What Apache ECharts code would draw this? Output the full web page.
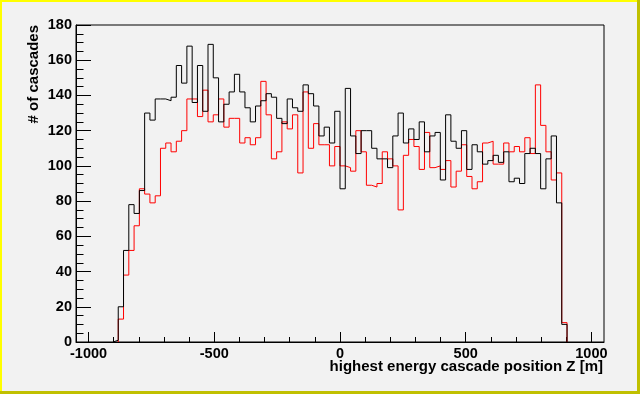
<!DOCTYPE html>
<html>
<head>
<meta charset="utf-8">
<script src="https://cdn.jsdelivr.net/npm/echarts@6/dist/echarts.min.js"></script>
<style>
  html, body { margin: 0; padding: 0; background: #f2f2f2; }
  #chart { width: 640px; height: 394px; }
</style>
</head>
<body>
<div id="chart"></div>
<script>
// Histogram definition: 100 bins from -1050 to 1050 (bin width 21)
const HIST_MIN = -1050;
const HIST_MAX = 1050;
const NBINS = 100;

// Bin contents (black histogram), bins 0..99
const blackCounts = [
  0,0,0,0,0,0,0,
  1,20,52,78,73,86,130,126,138,138,
  137,139,157,147,168,136,157,131,169,150,
  125,135,142,152,142,133,125,134,137,141,
  139,127,124,138,133,131,146,141,134,117,
  122,113,131,87,144,117,107,120,120,110,
  104,104,99,117,130,113,121,115,125,108,
  117,119,92,129,114,110,120,98,112,108,
  101,103,106,102,108,91,93,90,107,110,
  107,87,104,117,79,10,
  0,0,0,0,0,0,0
];

// Bin contents (red histogram), bins 0..99
const redCounts = [
  0,0,0,0,0,0,0,
  0,13,38,52,66,87,84,79,83,110,
  113,108,114,120,138,138,128,143,125,129,
  138,122,127,127,113,116,112,116,148,129,
  104,108,125,121,129,96,142,110,124,112,
  112,100,111,100,99,97,120,108,89,88,
  90,108,104,100,75,106,115,111,98,119,
  99,100,98,103,88,97,112,94,87,91,
  113,114,101,101,113,108,111,108,116,107,
  146,123,108,92,96,11,
  0,0,0,0,0,0,0
];

const xMajorTicks = [-1000, -500, 0, 500, 1000];
const xMinorTicks = [-1000,-900,-800,-700,-600,-500,-400,-300,-200,-100,0,100,200,300,400,500,600,700,800,900,1000];
const yTicks = [0, 20, 40, 60, 80, 100, 120, 140, 160, 180];

const xTitle = 'highest energy cascade position Z [m]';
const yTitle = '# of cascades';

// Build step outline points from bin contents (lower bin edges)
function histPoints(counts) {
  const w = (HIST_MAX - HIST_MIN) / NBINS;
  const first = counts.findIndex(v => v > 0);
  let last = counts.length - 1;
  while (last >= 0 && counts[last] <= 0) last--;
  const pts = [];
  pts.push([HIST_MIN + first * w, 0]);
  for (let i = first; i <= last; i++) pts.push([HIST_MIN + i * w, counts[i]]);
  pts.push([HIST_MIN + (last + 1) * w, 0]);
  return pts;
}

const FONT = '"Liberation Sans", Arial, Helvetica, sans-serif';
const plain = v => String(v);
const chart = echarts.init(document.getElementById('chart'), null, { renderer: 'canvas' });

const option = {
  animation: false,
  backgroundColor: '#f2f2f2',
  grid: {
    left: 76, right: 36, top: 25, bottom: 52,
    show: true, borderColor: '#000', borderWidth: 1, backgroundColor: 'transparent'
  },
  xAxis: [
    {
      type: 'value', min: HIST_MIN, max: HIST_MAX, position: 'bottom',
      axisLine: { show: true, onZero: false, lineStyle: { color: '#000', width: 1 } },
      axisTick: { show: true, inside: true, length: 10, customValues: xMajorTicks, lineStyle: { color: '#000', width: 1 } },
      axisLabel: { show: true, customValues: xMajorTicks, formatter: plain, margin: 4, color: '#000', fontFamily: FONT, fontWeight: 'bold', fontSize: 14.5 },
      splitLine: { show: false }
    },
    {
      type: 'value', min: HIST_MIN, max: HIST_MAX, position: 'bottom',
      axisLine: { show: false, onZero: false },
      axisTick: { show: true, inside: true, length: 5, customValues: xMinorTicks, lineStyle: { color: '#000', width: 1 } },
      axisLabel: { show: false },
      splitLine: { show: false }
    }
  ],
  yAxis: {
    type: 'value', min: yTicks[0], max: yTicks[yTicks.length - 1], interval: yTicks[1] - yTicks[0],
    axisLine: { show: true, onZero: false, lineStyle: { color: '#000', width: 1 } },
    axisTick: { show: true, inside: true, length: 15, lineStyle: { color: '#000', width: 1 } },
    minorTick: { show: true, splitNumber: 4, length: 7.5, lineStyle: { color: '#000', width: 1 } },
    axisLabel: { margin: 4, formatter: plain, color: '#000', fontFamily: FONT, fontWeight: 'bold', fontSize: 14.5 },
    splitLine: { show: false }
  },
  series: [
    {
      name: 'red', type: 'line', step: 'end', showSymbol: false, symbol: 'none',
      xAxisIndex: 0, data: histPoints(redCounts),
      lineStyle: { color: '#ff0000', width: 1 }, itemStyle: { color: '#ff0000' },
      clip: true, z: 2
    },
    {
      name: 'black', type: 'line', step: 'end', showSymbol: false, symbol: 'none',
      xAxisIndex: 0, data: histPoints(blackCounts),
      lineStyle: { color: '#000000', width: 1 }, itemStyle: { color: '#000000' },
      clip: true, z: 3
    }
  ],
  graphic: [
    { type: 'rect', left: 0, top: 0, shape: { width: 2, height: 394 }, style: { fill: '#ffff00' }, silent: true },
    { type: 'rect', left: 0, top: 0, shape: { width: 640, height: 2 }, style: { fill: '#ffff00' }, silent: true },
    { type: 'rect', left: 637, top: 0, shape: { width: 3, height: 394 }, style: { fill: '#c0c000' }, silent: true },
    { type: 'rect', left: 0, top: 391, shape: { width: 640, height: 3 }, style: { fill: '#c0c000' }, silent: true },
    {
      type: 'text', x: 34, y: 25, rotation: Math.PI / 2, silent: true,
      style: { text: yTitle, fill: '#000', font: 'bold 15px ' + FONT,
               align: 'right', verticalAlign: 'middle', textAlign: 'right', textVerticalAlign: 'middle' }
    },
    {
      type: 'text', x: 603, y: 367, silent: true,
      style: { text: xTitle, fill: '#000', font: 'bold 15px ' + FONT,
               align: 'right', verticalAlign: 'middle', textAlign: 'right', textVerticalAlign: 'middle' }
    }
  ]
};
chart.setOption(option);
</script>
</body>
</html>
